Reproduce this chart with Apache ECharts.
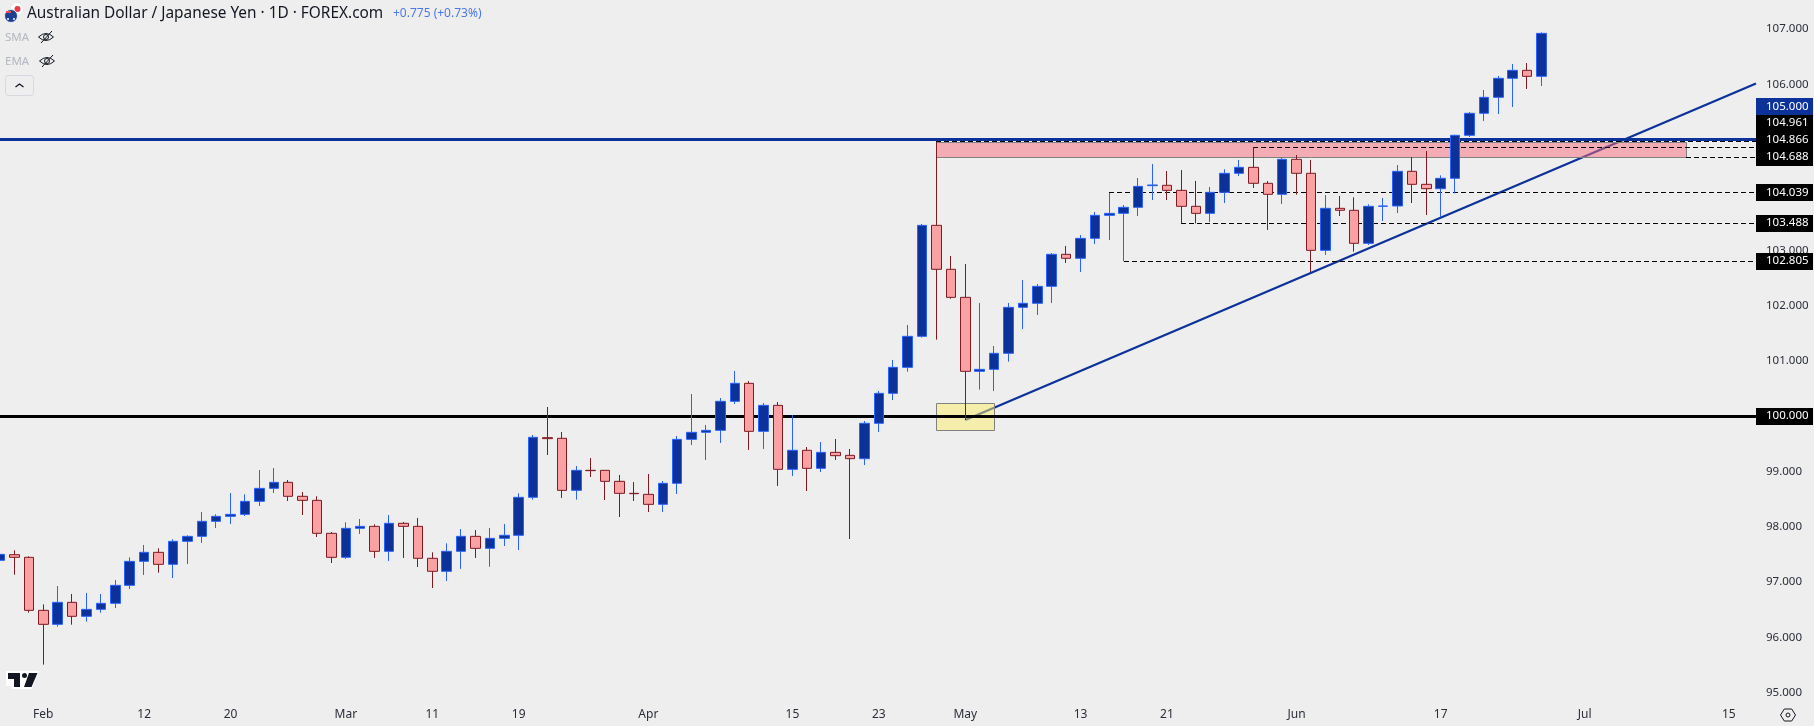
<!DOCTYPE html>
<html>
<head>
<meta charset="utf-8">
<style>html,body{margin:0;padding:0;background:#eeeeee;overflow:hidden}#c{width:1814px;height:726px}</style>
<script src="https://cdn.jsdelivr.net/npm/echarts@6/dist/echarts.min.js"></script>
</head>
<body>
<div id="c"></div>
<script>
// Daily AUD/JPY bars, first bar is three sessions before 1 Feb (bar index -3).
const firstBarIndex = -3;
const opens = [97.395,97.498,97.450,96.491,96.238,96.636,96.383,96.509,96.618,96.943,97.377,97.540,97.323,97.739,97.829,98.101,98.191,98.227,98.462,98.697,98.806,98.553,98.480,97.884,97.450,97.974,98.010,97.558,98.065,98.010,97.432,97.197,97.558,97.829,97.612,97.793,97.848,98.535,99.614,99.602,98.661,99.023,99.023,98.824,98.607,98.589,98.408,98.788,99.583,99.710,99.746,100.271,100.596,99.728,100.198,99.041,99.385,99.059,99.348,99.294,99.234,99.873,100.415,100.885,101.446,103.453,102.658,102.151,100.813,100.849,101.139,101.970,102.043,102.350,102.929,102.857,103.218,103.634,103.670,103.779,104.171,104.177,104.086,103.797,103.670,104.050,104.394,104.502,104.213,104.014,104.647,104.394,103.001,103.761,103.725,103.128,103.797,103.803,104.430,104.195,104.116,104.303,105.081,105.479,105.768,106.112,106.256,106.148];
const closes = [97.504,97.450,96.491,96.238,96.636,96.383,96.509,96.618,96.943,97.377,97.540,97.323,97.739,97.829,98.101,98.191,98.227,98.462,98.697,98.806,98.553,98.480,97.884,97.450,97.974,98.010,97.558,98.065,98.010,97.432,97.197,97.558,97.829,97.612,97.793,97.848,98.535,99.620,99.596,98.661,99.023,99.017,98.824,98.607,98.601,98.408,98.788,99.583,99.710,99.746,100.271,100.596,99.728,100.198,99.041,99.385,99.059,99.348,99.288,99.234,99.873,100.415,100.885,101.446,103.453,102.658,102.151,100.813,100.849,101.139,101.970,102.043,102.350,102.929,102.857,103.218,103.634,103.670,103.779,104.158,104.183,104.086,103.797,103.670,104.050,104.394,104.502,104.213,104.014,104.647,104.394,103.001,103.761,103.725,103.128,103.797,103.803,104.430,104.195,104.116,104.303,105.081,105.479,105.768,106.112,106.256,106.148,106.925];
const lows = [97.371,97.136,96.449,95.509,96.196,96.232,96.286,96.449,96.533,96.877,97.130,97.172,97.076,97.329,97.709,97.980,98.052,98.197,98.378,98.613,98.468,98.215,97.817,97.347,97.420,97.872,97.438,97.383,97.438,97.275,96.895,97.022,97.240,97.438,97.280,97.655,97.582,98.493,99.300,98.523,98.493,98.902,98.486,98.179,98.468,98.269,98.269,98.595,99.481,99.210,99.517,100.222,99.391,99.409,98.740,98.920,98.649,98.993,99.210,97.781,99.119,99.716,100.295,100.807,101.422,101.386,102.127,99.933,100.482,100.458,100.988,101.579,101.832,102.049,102.772,102.609,103.116,103.188,102.805,103.622,103.911,103.911,103.488,103.488,103.514,103.857,104.345,104.128,103.369,103.839,104.008,102.609,102.917,103.622,102.977,103.098,103.532,103.676,103.857,103.640,103.598,104.032,105.051,105.340,105.466,105.593,105.919,105.973];
const highs = [97.528,97.576,97.468,96.600,96.931,96.787,96.805,96.787,97.040,97.450,97.673,97.612,97.775,97.848,98.269,98.227,98.613,98.589,99.029,99.065,98.848,98.631,98.553,97.908,98.083,98.143,98.046,98.215,98.089,98.161,97.540,97.703,97.962,97.944,97.980,98.052,98.607,99.662,100.168,99.716,99.101,99.246,99.023,98.939,98.812,98.957,98.830,99.644,100.403,99.843,100.331,100.819,100.638,100.241,100.259,100.023,99.445,99.535,99.590,99.409,99.915,100.458,101.018,101.651,103.477,104.961,102.899,102.754,102.049,101.271,102.049,102.465,102.392,102.953,103.080,103.278,103.694,104.039,103.821,104.309,104.562,104.436,104.454,104.255,104.146,104.466,104.635,104.866,104.255,104.683,104.725,104.635,104.002,103.984,103.960,103.833,103.948,104.544,104.688,104.797,104.357,105.090,105.503,105.901,106.154,106.371,106.389,106.943];

const xTickBars = [0,7,13,21,27,33,42,52,58,64,72,78,87,97,107,117];
const xTickLabels = ['Feb','12','20','Mar','11','19','Apr','15','23','May','13','21','Jun','17','Jul','15'];
const yTicks = [95,96,97,98,99,100,101,102,103,104,105,106,107];

const solidPrices = [100, 105];
const solidNames = ['support', 'resistance'];
const dashStartBars = [62,84,114,74,79,75];
const dashPrices = [104.961,104.866,104.688,104.039,103.488,102.805];

const zoneFromBar = [62,62];
const zoneToBar = [114,66];
const zoneTop = [104.961,100.234];
const zoneBottom = [104.688,99.746];
const zoneNames = ['pink','yellow'];

const trendBars = [64,118.89];
const trendPrices = [99.933,106.02];

const tagTexts = ['105.000','104.961','104.866','104.688','104.039','103.488','102.805','100.000'];
const tagAtPrice = [105.598,105.295,104.988,104.680,104.039,103.488,102.805,100];
const tagKinds = ['blue','black','black','black','black','black','black','black'];

const X_MIN = -3.0062, X_MAX = 118.89, Y_MIN = 94.7975, Y_MAX = 107.528;
const BLUE = '#0c3299', BLUE_EDGE = '#2962ff', RED = '#faa1a4', RED_EDGE = '#801922', BG = '#eeeeee', INK = '#131722';
const UI = '"Noto Sans", sans-serif';

const chart = echarts.init(document.getElementById('c'));

const candles = opens.map((o, k) => [firstBarIndex + k, o, closes[k], lows[k], highs[k]]);

function crispY(y, w) { return w % 2 ? Math.round(y - 0.5) + 0.5 : Math.round(y); }

const zoneFill = { pink: 'rgba(247,106,122,0.5)', yellow: 'rgba(252,238,102,0.5)' };

chart.setOption({
  animation: false,
  backgroundColor: BG,
  tooltip: { show: false },
  grid: { left: 0, top: 0, width: 1756, height: 704, containLabel: false },
  xAxis: {
    type: 'value', min: X_MIN, max: X_MAX,
    axisLine: { show: false }, splitLine: { show: false },
    axisTick: { show: false },
    axisLabel: {
      customValues: xTickBars, margin: 5, showMinLabel: true, showMaxLabel: true, hideOverlap: false,
      fontFamily: UI, fontSize: 12, color: '#2a2e39',
      formatter: v => xTickLabels[xTickBars.indexOf(v)]
    }
  },
  yAxis: {
    type: 'value', position: 'right', min: Y_MIN, max: Y_MAX, scale: true,
    axisLine: { show: false }, splitLine: { show: false },
    axisTick: { show: false },
    axisLabel: {
      customValues: yTicks, margin: 10, hideOverlap: false,
      fontFamily: UI, fontSize: 11.5, color: '#2a2e39',
      formatter: v => v.toFixed(3)
    }
  },
  series: [
    { name: 'trend', type: 'line', z: 2, symbol: 'none', silent: true,
      data: trendBars.map((b, k) => [b, trendPrices[k]]),
      lineStyle: { color: BLUE, width: 2.2 } },
    { name: 'zones', type: 'custom', z: 3, silent: true,
      data: zoneNames.map((n, k) => [zoneFromBar[k], zoneToBar[k], zoneTop[k], zoneBottom[k], k]),
      encode: { x: [0, 1], y: [2, 3] },
      renderItem(p, api) {
        const a = api.coord([api.value(0), api.value(2)]);
        const b = api.coord([api.value(1), api.value(3)]);
        const x0 = Math.round(a[0]) + 0.5, x1 = Math.round(b[0]) + 0.5, y0 = Math.round(a[1]) + 0.5, y1 = Math.round(b[1]) + 0.5;
        return { type: 'rect', shape: { x: x0, y: y0, width: x1 - x0, height: y1 - y0 },
          style: { fill: zoneFill[zoneNames[api.value(4)]], stroke: '#808080', lineWidth: 1 } };
      } },
    { name: 'levels', type: 'custom', z: 4, silent: true,
      data: solidPrices.map((v, k) => [X_MIN, v, k]),
      encode: { x: 0, y: 1 },
      renderItem(p, api) {
        const y = crispY(api.coord([0, api.value(1)])[1], 3);
        const col = solidNames[api.value(2)] === 'support' ? '#000000' : BLUE;
        return { type: 'line', shape: { x1: 0, y1: y, x2: 1756, y2: y }, style: { stroke: col, lineWidth: 3 } };
      } },
    { name: 'dashes', type: 'custom', z: 5, silent: true,
      data: dashPrices.map((v, k) => [dashStartBars[k], v]),
      encode: { x: 0, y: 1 },
      renderItem(p, api) {
        const s = api.coord([api.value(0), api.value(1)]);
        const e = api.coord([X_MAX, api.value(1)]);
        const y = crispY(s[1], 1);
        return { type: 'line', shape: { x1: Math.round(s[0]), y1: y, x2: e[0], y2: y },
          style: { stroke: '#000000', lineWidth: 1, lineDash: [5, 3] } };
      } },
    { name: 'AUDJPY', type: 'candlestick', z: 6, barWidth: 10, silent: true,
      data: candles,
      encode: { x: 0, y: [1, 2, 3, 4] },
      itemStyle: { color: BLUE, color0: RED, borderColor: BLUE_EDGE, borderColor0: RED_EDGE, borderWidth: 1 } },
    { name: 'tags', type: 'custom', z: 20, silent: true,
      data: tagTexts.map((t, k) => [X_MAX, tagAtPrice[k], k]),
      encode: { x: 0, y: 1 },
      renderItem(p, api) {
        const c = api.coord([api.value(0), api.value(1)]);
        const k = api.value(2);
        const h = 17;
        return { type: 'group', children: [
          { type: 'rect', shape: { x: 1756, y: Math.round(c[1] - h / 2), width: 57, height: h },
            style: { fill: tagKinds[k] === 'blue' ? BLUE : '#000000' } },
          { type: 'text', x: 1766, y: Math.round(c[1]),
            style: { text: tagTexts[k], fill: '#ffffff', font: '11.5px ' + UI, verticalAlign: 'middle', align: 'left' } }
        ] };
      } }
  ],
  graphic: [
    { type: 'circle', shape: { cx: 17, cy: 9, r: 6.5 }, style: { fill: '#ffffff', stroke: '#dddddd', lineWidth: 0.5 } },
    { type: 'circle', shape: { cx: 17.5, cy: 9, r: 3 }, style: { fill: '#f0384a' } },
    { type: 'circle', shape: { cx: 11, cy: 16, r: 6.5 }, style: { fill: '#1d3f8f', stroke: BG, lineWidth: 1 } },
    { type: 'rect', shape: { x: 6, y: 11, width: 5, height: 2 }, style: { fill: '#e8505b' } },
    { type: 'circle', shape: { cx: 14, cy: 19, r: 1 }, style: { fill: '#ffffff' } },
    { type: 'circle', shape: { cx: 8, cy: 19, r: 1 }, style: { fill: '#ffffff' } },
    { type: 'text', x: 27, y: 14, style: { text: 'Australian Dollar / Japanese Yen · 1D · FOREX.com', fill: INK, font: '15.4px ' + UI, verticalAlign: 'middle' } },
    { type: 'text', x: 393, y: 14, style: { text: '+0.775 (+0.73%)', fill: '#4a76f0', font: '12px ' + UI, verticalAlign: 'middle' } },
    { type: 'text', x: 5, y: 38, style: { text: 'SMA', fill: '#b4b7c0', font: '11.5px ' + UI, verticalAlign: 'middle' } },
    { type: 'text', x: 5, y: 62, style: { text: 'EMA', fill: '#b4b7c0', font: '11.5px ' + UI, verticalAlign: 'middle' } },
    ...[[46, 37], [47, 61]].flatMap(([cx, cy]) => [
      { type: 'bezierCurve', shape: { x1: cx - 7.5, y1: cy, x2: cx + 7.5, y2: cy, cpx1: cx, cpy1: cy - 7 }, style: { fill: 'none', stroke: INK, lineWidth: 1 } },
      { type: 'bezierCurve', shape: { x1: cx - 7.5, y1: cy, x2: cx + 7.5, y2: cy, cpx1: cx, cpy1: cy + 7 }, style: { fill: 'none', stroke: INK, lineWidth: 1 } },
      { type: 'circle', shape: { cx, cy, r: 2.5 }, style: { fill: 'none', stroke: INK, lineWidth: 1 } },
      { type: 'line', shape: { x1: cx - 5, y1: cy + 6, x2: cx + 6, y2: cy - 6 }, style: { stroke: INK, lineWidth: 1 } }
    ]),
    { type: 'rect', shape: { x: 5.5, y: 75.5, width: 28, height: 20, r: 3 }, style: { fill: 'none', stroke: '#d6d8df', lineWidth: 1 } },
    { type: 'polyline', shape: { points: [[15.5, 87], [19.5, 84], [23.5, 87]] }, style: { fill: 'none', stroke: INK, lineWidth: 1.3 } },
    { type: 'polygon', shape: { points: [[6, 671], [39, 671], [32, 689], [12, 689], [12, 686], [6, 686]] }, style: { fill: '#ffffff' } },
    { type: 'polygon', shape: { points: [[8, 673], [20, 673], [20, 687], [14, 687], [14, 679], [8, 679]] }, style: { fill: INK } },
    { type: 'circle', shape: { cx: 24.5, cy: 675.5, r: 2.5 }, style: { fill: INK } },
    { type: 'polygon', shape: { points: [[29, 673], [37.5, 673], [31.5, 687], [24, 687]] }, style: { fill: INK } },
    { type: 'polygon', shape: { points: [[1780.5, 715], [1784.3, 709], [1791.7, 709], [1795.5, 715], [1791.7, 721], [1784.3, 721]] }, style: { fill: 'none', stroke: INK, lineWidth: 1 } },
    { type: 'circle', shape: { cx: 1788, cy: 715, r: 2 }, style: { fill: 'none', stroke: INK, lineWidth: 1 } }
  ]
});
</script>
</body>
</html>
